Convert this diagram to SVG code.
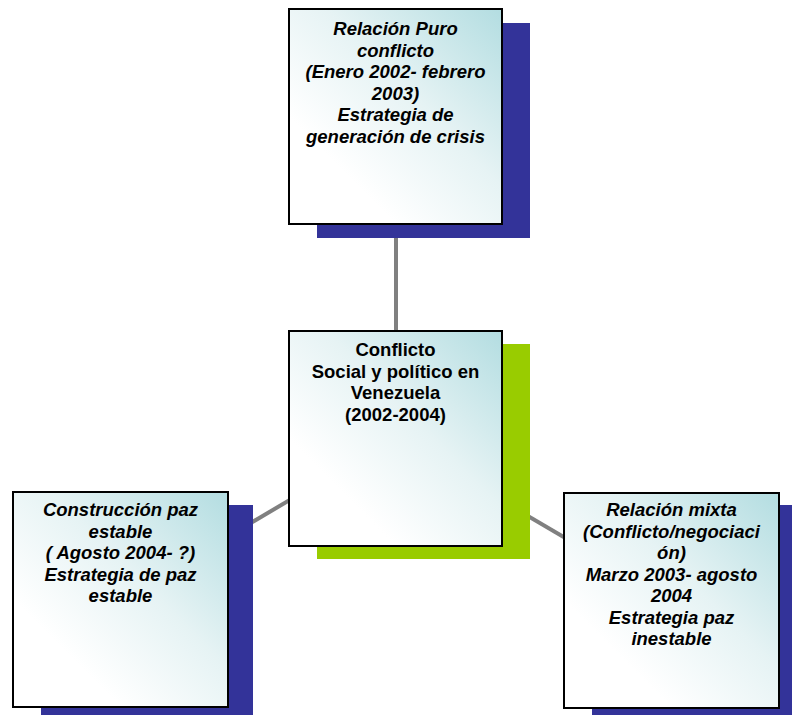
<svg xmlns="http://www.w3.org/2000/svg" width="792" height="715" viewBox="0 0 792 715">
<defs>
<linearGradient id="g" x1="1" y1="0" x2="0.25" y2="0.75">
<stop offset="0" stop-color="#b3dde1"/>
<stop offset="0.55" stop-color="#e6f3f4"/>
<stop offset="1" stop-color="#ffffff"/>
</linearGradient>
<style>
.sh{fill:#333399}
.shg{fill:#99cc00}
.bx{fill:url(#g);stroke:#000;stroke-width:2}
.t{font-family:"Liberation Sans",Arial,sans-serif;font-size:18.5px;font-weight:bold;font-style:italic;text-anchor:middle;fill:#000}
.tc{font-style:normal}
.ln{stroke:#808080;stroke-width:4;fill:none}
</style>
</defs>
<rect width="792" height="715" fill="#fff"/>
<g id="connectors">
<line class="ln" x1="396" y1="238" x2="396" y2="331"/>
<line class="ln" x1="395" y1="438" x2="120" y2="600"/>
<line class="ln" x1="395" y1="438" x2="671" y2="600"/>
</g>
<g id="top">
<rect class="sh" x="317" y="23" width="213" height="215"/>
<rect class="bx" x="289" y="9" width="213" height="215"/>
<text class="t" x="395.5"><tspan x="395.5" y="35">Relación Puro</tspan><tspan x="395.5" y="56.5">conflicto</tspan><tspan x="395.5" y="78">(Enero 2002- febrero</tspan><tspan x="395.5" y="99.5">2003)</tspan><tspan x="395.5" y="121">Estrategia de</tspan><tspan x="395.5" y="142.5">generación de crisis</tspan></text>
</g>
<g id="center">
<rect class="shg" x="317" y="344" width="213" height="215"/>
<rect class="bx" x="289" y="331" width="213" height="215"/>
<text class="t tc"><tspan x="395.5" y="356">Conflicto</tspan><tspan x="395.5" y="377.5">Social y político en</tspan><tspan x="395.5" y="399">Venezuela</tspan><tspan x="395.5" y="420.5">(2002-2004)</tspan></text>
</g>
<g id="left">
<rect class="sh" x="41" y="505" width="212" height="215"/>
<rect class="bx" x="13" y="492" width="215" height="215"/>
<text class="t"><tspan x="120.5" y="516">Construcción paz</tspan><tspan x="120.5" y="537.5">estable</tspan><tspan x="120.5" y="559">( Agosto 2004- ?)</tspan><tspan x="120.5" y="580.5">Estrategia de paz</tspan><tspan x="120.5" y="602">estable</tspan></text>
</g>
<g id="right">
<rect class="sh" x="592" y="505" width="213" height="215"/>
<rect class="bx" x="564" y="493" width="215" height="215"/>
<text class="t"><tspan x="671.5" y="516">Relación mixta</tspan><tspan x="671.5" y="537.5">(Conflicto/negociaci</tspan><tspan x="671.5" y="559">ón)</tspan><tspan x="671.5" y="580.5">Marzo 2003- agosto</tspan><tspan x="671.5" y="602">2004</tspan><tspan x="671.5" y="623.5">Estrategia paz</tspan><tspan x="671.5" y="645">inestable</tspan></text>
</g>
</svg>
